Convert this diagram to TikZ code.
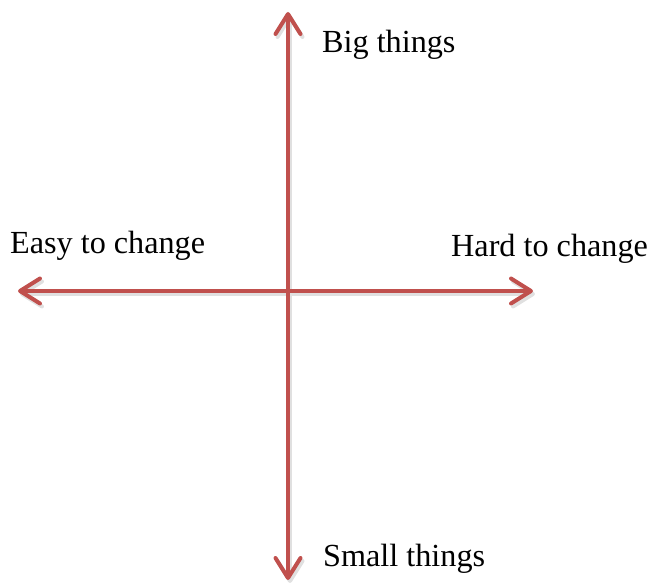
\documentclass[tikz,border=0pt]{standalone}
\usepackage{fontspec}
\setmainfont{Liberation Serif}
\usetikzlibrary{arrows.meta}
\definecolor{axisred}{RGB}{192,80,77}

\begin{document}
\begin{tikzpicture}[x=1pt, y=1pt,
	axis/.style={line width=4pt, color=axisred, {Straight Barb[length=20pt,width=25pt,line width=4pt,round]}-{Straight Barb[length=20pt,width=25pt,line width=4pt,round]}},
	shade/.style={line width=4pt, color=black!12, {Straight Barb[length=20pt,width=25pt,line width=4pt,round]}-{Straight Barb[length=20pt,width=25pt,line width=4pt,round]}},
	lbl/.style={anchor=base west, inner sep=0pt, font=\fontsize{32.2}{38}\selectfont}]
	\useasboundingbox (0,0) rectangle (648,583);
	
	\coordinate (top) at (288,571);
	\coordinate (bottom) at (288,3);
	\coordinate (left) at (18,292);
	\coordinate (right) at (533,292);
	
	% soft shadow under the axes
	\draw [shade, transform canvas={xshift=2pt, yshift=-3pt}] (left)--(right);
	\draw [shade, transform canvas={xshift=2pt, yshift=-3pt}] (bottom)--(top);
	
	\draw [axis] (left)--(right);
	\draw [axis] (bottom)--(top);
	
	\node [lbl] (big) at (322,530) {Big things};
	\node [lbl] (small) at (323,16) {Small things};
	\node [lbl] (easy) at (10,329) {Easy to change};
	\node [lbl] (hard) at (451,326) {Hard to change};
\end{tikzpicture}
\end{document}
